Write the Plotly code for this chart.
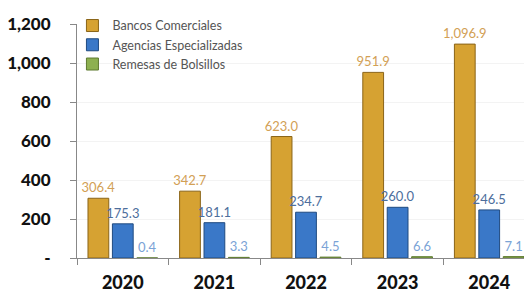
import plotly.graph_objects as go

years = ["2020", "2021", "2022", "2023", "2024"]
bancos = [306.4, 342.7, 623.0, 951.9, 1096.9]
agencias = [175.3, 181.1, 234.7, 260.0, 246.5]
remesas = [0.4, 3.3, 4.5, 6.6, 7.1]

y_ticks = [0, 200, 400, 600, 800, 1000, 1200]
y_ticktext = ["-", "200", "400", "600", "800", "1,000", "1,200"]

font_main = "Lato"

def fmt(v):
    return f"{v:,.1f}"

fig = go.Figure()
series = [
    ("Bancos Comerciales", bancos, "#D6A232", "#8A6418", "#D2A055"),
    ("Agencias Especializadas", agencias, "#3A78C8", "#1F4A80", "#4D6E9C"),
    ("Remesas de Bolsillos", remesas, "#8DB050", "#5E7A30", "#7BA3D6"),
]
for name, vals, col, line, tcol in series:
    fig.add_trace(go.Bar(
        name=name, x=years, y=vals,
        marker=dict(color=col, line=dict(color=line, width=1)),
        text=[fmt(v) for v in vals], textposition="outside",
        constraintext="none",
        textfont=dict(color=tcol, size=13, family=font_main),
        cliponaxis=False,
    ))

fig.update_layout(
    width=524, height=285,
    margin=dict(l=69, r=0, t=16, b=35),
    paper_bgcolor="white", plot_bgcolor="white",
    barmode="group", bargap=0.2, bargroupgap=0.15,
    font=dict(family=font_main),
    legend=dict(x=-0.01, y=1.056, xanchor="left", yanchor="top",
                font=dict(size=12.5, color="#555555", family=font_main),
                bgcolor="rgba(0,0,0,0)", tracegroupgap=0, itemwidth=30),
    showlegend=True,
)
fig.update_xaxes(
    range=[-0.5, 4.467], automargin=False,
    showline=True, linecolor="#888888", linewidth=1,
    ticks="outside", tickson="boundaries", ticklen=6, tickcolor="#888888",
    ticklabelstandoff=8,
    tickfont=dict(size=18, color="#111111", family=font_main + " Black"),
    showgrid=False,
)
fig.update_yaxes(
    range=[0, 1200], tickvals=y_ticks, ticktext=y_ticktext, automargin=False,
    showline=True, linecolor="#888888", linewidth=1,
    ticks="outside", ticklen=6, tickcolor="#888888", ticklabelstandoff=16,
    tickfont=dict(size=17, color="#111111", family=font_main + " Black"),
    showgrid=True, gridcolor="#F3F3F3", zeroline=False,
)
fig.write_html("out.html")
